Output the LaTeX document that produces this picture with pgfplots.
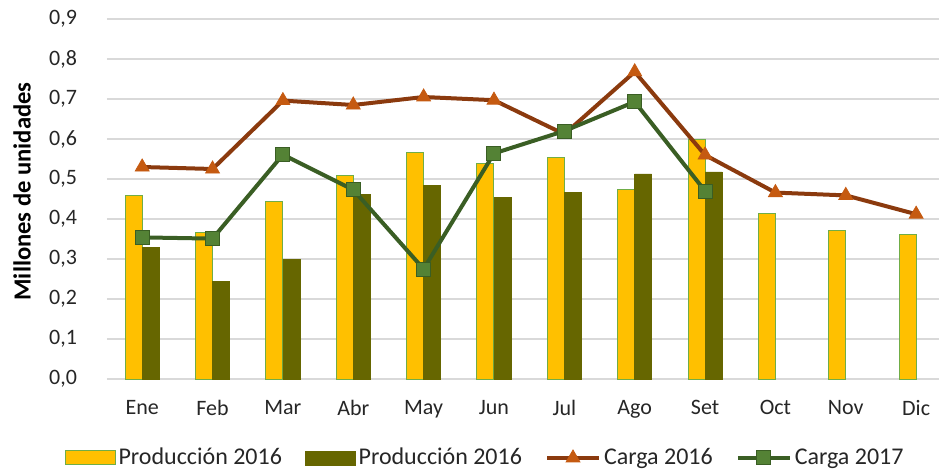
\documentclass[border=0pt]{standalone}
\usepackage{fontspec}
\setmainfont{Carlito}
\usepackage{pgfplots}
\pgfplotsset{compat=1.18}

\definecolor{amarillo}{HTML}{FFC000}
\definecolor{borde}{HTML}{70AD47}
\definecolor{oliva}{HTML}{666600}
\definecolor{marron}{HTML}{8B3A0E}
\definecolor{naranja}{HTML}{C55A11}
\definecolor{verde}{HTML}{3A5E24}
\definecolor{verdeclaro}{HTML}{548235}
\definecolor{rejilla}{HTML}{D9D9D9}
\definecolor{texto}{HTML}{262626}

\pgfplotsset{
    linea legend/.style={legend image code/.code={%
        \draw[##1, mark repeat=2, mark phase=2] plot coordinates {(0pt,0pt) (13pt,0pt) (26pt,0pt)};}},
    barra legend/.style={legend image code/.code={%
        \draw[##1] (0pt,-3.5pt) rectangle (25pt,3.5pt);}},
}

\begin{document}
\begin{tikzpicture}
\begin{axis}[
    name=a,
    scale only axis,
    width=416pt, height=180pt,
    xmin=-0.5, xmax=11.325,
    ymin=0, ymax=0.9,
    xtick={0,...,11},
    xticklabels={Ene,Feb,Mar,Abr,May,Jun,Jul,Ago,Set,Oct,Nov,Dic},
    ytick={0,0.1,...,0.9},
    /pgf/number format/assume math mode=true,
    yticklabel={\pgfmathprintnumber[fixed,fixed zerofill,precision=1,use comma]{\tick}},
    ticklabel style={font=\fontsize{11}{13}\selectfont, text=texto},
    yticklabel style={xshift=-11.5pt},
    xticklabel style={yshift=-7pt},
    tick style={draw=none},
    axis line style={draw=none},
    ymajorgrids,
    grid style={rejilla, line width=0.6pt},
    ylabel={Millones de unidades},
    ylabel style={at={(axis description cs:-0.1022,0.521)}, anchor=center,
        font=\bfseries\fontsize{12.3}{14}\selectfont, text=black},
    legend columns=4,
    legend style={at={(axis description cs:0.455,-0.2194)}, anchor=center,
        draw=none, fill=none, font=\fontsize{12}{14}\selectfont, text=texto,
        nodes={inner sep=1.5pt},
        /tikz/every even column/.append style={column sep=10pt}},
]
% Producción 2016 (amarillo)
\addplot[ybar, bar width=8.5pt, bar shift=-4.25pt, fill=amarillo, draw=borde, line width=0.5pt, barra legend]
coordinates {
    (0,0.460) (1,0.367) (2,0.443) (3,0.509) (4,0.567) (5,0.539)
    (6,0.554) (7,0.474) (8,0.598) (9,0.414) (10,0.371) (11,0.361)
};
\addlegendentry{Producción 2016}
% Producción 2016 (oliva)
\addplot[ybar, bar width=8.5pt, bar shift=4.25pt, fill=oliva, draw=oliva, line width=0.3pt, barra legend]
coordinates {
    (0,0.330) (1,0.245) (2,0.300) (3,0.462) (4,0.485) (5,0.454)
    (6,0.466) (7,0.513) (8,0.518)
};
\addlegendentry{Producción 2016}
% Carga 2016
\addplot[marron, line width=2pt, mark=triangle*, mark size=4pt,
    mark options={fill=naranja, draw=naranja, line width=0.4pt}, linea legend]
coordinates {
    (0,0.530) (1,0.525) (2,0.696) (3,0.685) (4,0.705) (5,0.697)
    (6,0.612) (7,0.768) (8,0.560) (9,0.466) (10,0.459) (11,0.412)
};
\addlegendentry{Carga 2016}
% Carga 2017
\addplot[verde, line width=2pt, mark=square*, mark size=3.5pt,
    mark options={fill=verdeclaro, draw=verde, line width=0.5pt}, linea legend]
coordinates {
    (0,0.354) (1,0.351) (2,0.561) (3,0.473) (4,0.275) (5,0.564)
    (6,0.620) (7,0.693) (8,0.470)
};
\addlegendentry{Carga 2017}
\end{axis}
\pgfresetboundingbox
\path[use as bounding box] ([shift={(-53.5pt,-45.5pt)}]a.south west) rectangle ([shift={(0pt,9.5pt)}]a.north east);
\end{tikzpicture}
\end{document}
